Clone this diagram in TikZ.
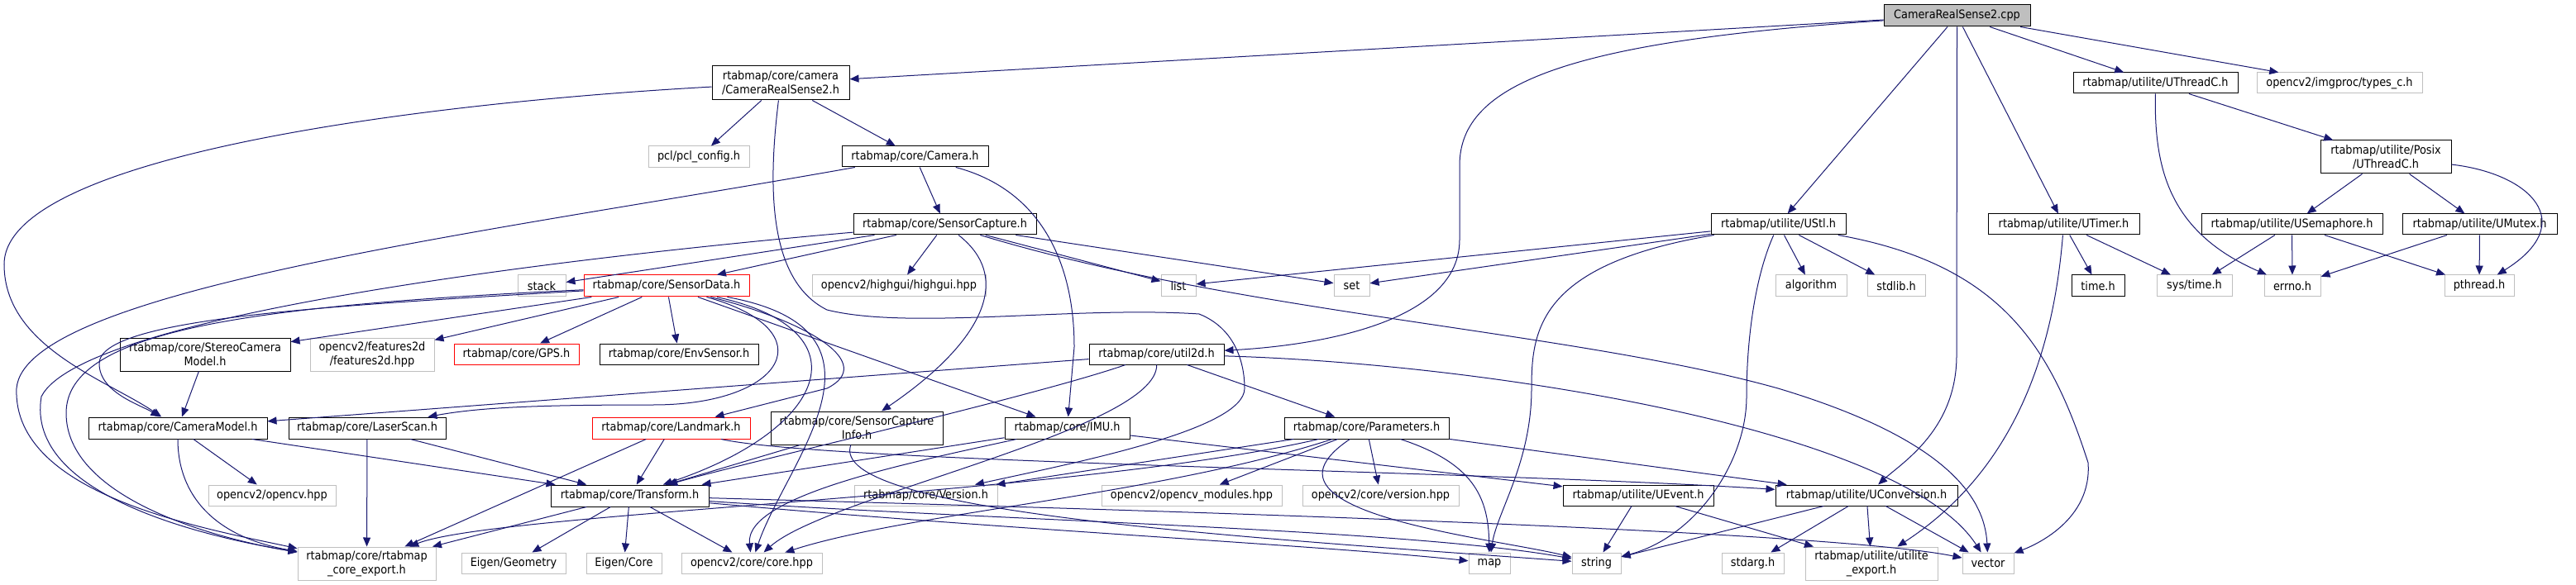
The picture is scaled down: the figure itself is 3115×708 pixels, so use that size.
\documentclass[tikz,border=0pt]{standalone}
\usepackage{fontspec}
\setmainfont{DejaVu Sans Condensed}
\usetikzlibrary{arrows.meta}
\definecolor{edgec}{HTML}{191970}
\definecolor{extc}{HTML}{BFBFBF}
\tikzset{
  nb/.style={draw=black,fill=white,line width=1pt,inner sep=0pt,align=center,font=\fontsize{14.3}{17}\selectfont},
  ext/.style={nb,draw=extc},
  redb/.style={nb,draw=red},
  root/.style={nb,fill=extc},
  e/.style={draw=edgec,line width=1pt,-{Triangle[length=11pt,width=9pt]}}
}
\newcommand{\bx}[6]{\node[#1,minimum width=#4pt,minimum height=#5pt] (#2) at (#3) {#6};}
\begin{document}
\begin{tikzpicture}[x=1pt,y=-1pt]
\useasboundingbox (0,0) rectangle (3115,708);
% nodes
\bx{root}{cpp}{2366.5,19}{177}{26}{CameraRealSense2.cpp}
\bx{nb}{crs2h}{944,100.5}{166}{41}{rtabmap/core/camera\\/CameraRealSense2.h}
\bx{ext}{pcl}{845,190}{122}{26}{pcl/pcl\_config.h}
\bx{nb}{camera}{1106.5,189.5}{177}{25}{rtabmap/core/Camera.h}
\bx{nb}{scap}{1142.5,271.5}{221}{25}{rtabmap/core/SensorCapture.h}
\bx{nb}{ustl}{2150.5,271.5}{163}{25}{rtabmap/utilite/UStl.h}
\bx{nb}{utimer}{2495.5,271.5}{183}{25}{rtabmap/utilite/UTimer.h}
\bx{nb}{uthreadc}{2606.5,100.5}{199}{25}{rtabmap/utilite/UThreadC.h}
\bx{ext}{typesc}{2829,100.5}{200}{25}{opencv2/imgproc/types\_c.h}
\bx{nb}{posix}{2885,190}{158}{40}{rtabmap/utilite/Posix\\/UThreadC.h}
\bx{nb}{usem}{2771.5,271.5}{219}{25}{rtabmap/utilite/USemaphore.h}
\bx{nb}{umutex}{2998.5,271.5}{187}{25}{rtabmap/utilite/UMutex.h}
\bx{ext}{stack}{655,346}{58}{26}{stack}
\bx{redb}{sdata}{806,346}{200}{26}{rtabmap/core/SensorData.h}
\bx{ext}{highgui}{1087,346}{210}{26}{opencv2/highgui/highgui.hpp}
\bx{ext}{list}{1425,346}{42}{26}{list}
\bx{ext}{set}{1634.5,346}{43}{26}{set}
\bx{ext}{algorithm}{2190,346}{86}{26}{algorithm}
\bx{ext}{stdlib}{2293,346}{70}{26}{stdlib.h}
\bx{nb}{timeh}{2537,346}{64}{26}{time.h}
\bx{ext}{systime}{2653.5,346}{91}{26}{sys/time.h}
\bx{ext}{errno}{2772,346}{68}{26}{errno.h}
\bx{ext}{pthread}{2998,346}{84}{26}{pthread.h}
\bx{nb}{stereo}{248,429}{206}{40}{rtabmap/core/StereoCamera\\Model.h}
\bx{ext}{feat2d}{450,429}{150}{40}{opencv2/features2d\\/features2d.hpp}
\bx{redb}{gps}{624.5,428.5}{151}{25}{rtabmap/core/GPS.h}
\bx{nb}{envsensor}{821,428.5}{192}{25}{rtabmap/core/EnvSensor.h}
\bx{nb}{util2d}{1398.5,428.5}{163}{25}{rtabmap/core/util2d.h}
\bx{nb}{cammodel}{215,518}{216}{26}{rtabmap/core/CameraModel.h}
\bx{nb}{laserscan}{444,518}{190}{26}{rtabmap/core/LaserScan.h}
\bx{redb}{landmark}{811.5,518}{191}{26}{rtabmap/core/Landmark.h}
\bx{nb}{scapinfo}{1036,518}{208}{40}{rtabmap/core/SensorCapture\\Info.h}
\bx{nb}{imu}{1290.5,518}{151}{26}{rtabmap/core/IMU.h}
\bx{nb}{params}{1652.5,518}{199}{26}{rtabmap/core/Parameters.h}
\bx{ext}{opencvhpp}{329,599.5}{154}{25}{opencv2/opencv.hpp}
\bx{nb}{transform}{761.5,600}{191}{26}{rtabmap/core/Transform.h}
\bx{ext}{version}{1119.5,599.5}{173}{25}{rtabmap/core/Version.h}
\bx{ext}{cvmodules}{1441,599.5}{218}{25}{opencv2/opencv\_modules.hpp}
\bx{ext}{cvversion}{1669.5,599.5}{189}{25}{opencv2/core/version.hpp}
\bx{nb}{uevent}{1981,599.5}{182}{25}{rtabmap/utilite/UEvent.h}
\bx{nb}{uconv}{2257,599.5}{220}{25}{rtabmap/utilite/UConversion.h}
\bx{ext}{export}{443.5,682}{167}{40}{rtabmap/core/rtabmap\\\_core\_export.h}
\bx{ext}{eigengeo}{621,681.5}{126}{25}{Eigen/Geometry}
\bx{ext}{eigencore}{754.5,681.5}{91}{25}{Eigen/Core}
\bx{ext}{corehpp}{909,681.5}{170}{25}{opencv2/core/core.hpp}
\bx{ext}{map}{1801,681.5}{50}{25}{map}
\bx{ext}{string}{1930.5,681.5}{59}{25}{string}
\bx{ext}{stdarg}{2119.5,681.5}{75}{25}{stdarg.h}
\bx{ext}{uexport}{2263,682}{160}{40}{rtabmap/utilite/utilite\\\_export.h}
\bx{ext}{vector}{2404,681.5}{62}{25}{vector}
% edges: cpp
\draw[e] (cpp) -- (crs2h);
\draw[e] (cpp) .. controls (1900,50) and (1765,100) .. (1765,200) -- (1765,290) .. controls (1765,400) and (1560,420) .. (util2d);
\draw[e] (cpp) -- (ustl);
\draw[e] (cpp.south) -- (2366,430) .. controls (2366,520) and (2300,560) .. (uconv);
\draw[e] (cpp) -- (utimer);
\draw[e] (cpp) -- (uthreadc);
\draw[e] (cpp) -- (typesc);
% crs2h
\draw[e] (crs2h) -- (pcl);
\draw[e] (crs2h) -- (camera);
\draw[e] (crs2h) .. controls (500,125) and (5,190) .. (5,320) .. controls (5,420) and (130,460) .. (cammodel);
\draw[e] (crs2h) .. controls (928,230) and (930,340) .. (1000,375) .. controls (1100,400) and (1300,370) .. (1450,380) .. controls (1500,400) and (1505,450) .. (1505,470) .. controls (1505,520) and (1300,560) .. (version);
% camera
\draw[e] (camera) .. controls (600,280) and (30,350) .. (20,470) .. controls (15,600) and (250,640) .. (export);
\draw[e] (camera) -- (scap);
\draw[e] (camera) .. controls (1260,230) and (1299,320) .. (1299,420) -- (imu);
% scap
\draw[e] (scap) -- (stack);
\draw[e] (scap) .. controls (700,310) and (100,380) .. (50,480) .. controls (30,600) and (250,650) .. (export);
\draw[e] (scap) -- (sdata);
\draw[e] (scap) -- (highgui);
\draw[e] (scap) .. controls (1230,340) and (1180,420) .. (scapinfo);
\draw[e] (scap) -- (list);
\draw[e] (scap) -- (set);
\draw[e] (scap) .. controls (1500,380) and (1900,400) .. (2150,470) .. controls (2350,530) and (2400,600) .. (vector);
% sdata
\draw[e] (sdata) .. controls (400,370) and (120,385) .. (120,440) .. controls (120,475) and (170,490) .. (cammodel);
\draw[e] (sdata) .. controls (300,370) and (80,400) .. (80,500) .. controls (80,600) and (250,650) .. (export);
\draw[e] (sdata) -- (stereo);
\draw[e] (sdata) -- (feat2d);
\draw[e] (sdata) -- (gps);
\draw[e] (sdata) -- (envsensor);
\draw[e] (sdata) .. controls (1000,400) and (950,490) .. (790,490) .. controls (650,490) and (580,493) .. (laserscan);
\draw[e] (sdata) .. controls (980,390) and (1060,440) .. (1000,470) -- (landmark);
\draw[e] (sdata) .. controls (1050,400) and (1000,520) .. (transform);
\draw[e] (sdata) .. controls (1100,400) and (950,560) .. (corehpp);
\draw[e] (sdata) -- (imu);
% util2d
\draw[e] (util2d) -- (cammodel);
\draw[e] (util2d) .. controls (1250,480) and (900,560) .. (transform);
\draw[e] (util2d) .. controls (1400,520) and (1000,600) .. (corehpp);
\draw[e] (util2d) -- (params);
\draw[e] (util2d) .. controls (1800,440) and (2300,520) .. (vector);
% models
\draw[e] (stereo) -- (cammodel);
\draw[e] (cammodel) -- (opencvhpp);
\draw[e] (cammodel) .. controls (215,600) and (260,650) .. (export);
\draw[e] (cammodel) -- (transform);
\draw[e] (laserscan) -- (export);
\draw[e] (laserscan) -- (transform);
\draw[e] (landmark) -- (transform);
\draw[e] (landmark) -- (export);
\draw[e] (landmark) .. controls (1000,560) and (1800,570) .. (uconv);
\draw[e] (scapinfo) -- (transform);
\draw[e] (scapinfo) .. controls (1000,620) and (1500,650) .. (string);
\draw[e] (imu) -- (transform);
\draw[e] (imu) -- (uevent);
\draw[e] (imu) .. controls (1100,560) and (900,600) .. (corehpp);
% params
\draw[e] (params) -- (version);
\draw[e] (params) -- (cvmodules);
\draw[e] (params) -- (cvversion);
\draw[e] (params) .. controls (1780,560) and (1800,600) .. (map);
\draw[e] (params) -- (uconv);
\draw[e] (params) .. controls (1300,600) and (600,620) .. (export);
\draw[e] (params) .. controls (1400,600) and (1100,620) .. (corehpp);
\draw[e] (params) .. controls (1500,620) and (1800,650) .. (string);
% transform
\draw[e] (transform) -- (export);
\draw[e] (transform) -- (eigengeo);
\draw[e] (transform) -- (eigencore);
\draw[e] (transform) -- (corehpp);
\draw[e] (transform) .. controls (1200,630) and (1700,640) .. (string);
\draw[e] (transform) .. controls (1200,640) and (1600,660) .. (map);
\draw[e] (transform) .. controls (1300,615) and (2200,640) .. (vector);
% utilite
\draw[e] (uevent) -- (string);
\draw[e] (uevent) -- (uexport);
\draw[e] (uconv) -- (string);
\draw[e] (uconv) -- (stdarg);
\draw[e] (uconv) -- (uexport);
\draw[e] (uconv) -- (vector);
\draw[e] (ustl) -- (list);
\draw[e] (ustl) -- (set);
\draw[e] (ustl) .. controls (1860,320) and (1852,400) .. (1852,470) .. controls (1852,560) and (1810,620) .. (map);
\draw[e] (ustl) .. controls (2120,340) and (2112,420) .. (2112,480) .. controls (2112,560) and (2050,650) .. (string);
\draw[e] (ustl) -- (algorithm);
\draw[e] (ustl) -- (stdlib);
\draw[e] (ustl) .. controls (2420,320) and (2480,420) .. (2525,560) .. controls (2530,630) and (2460,660) .. (vector);
\draw[e] (utimer) -- (timeh);
\draw[e] (utimer) -- (systime);
\draw[e] (utimer) .. controls (2485,400) and (2450,560) .. (uexport);
\draw[e] (uthreadc) .. controls (2605,200) and (2620,280) .. (errno);
\draw[e] (uthreadc) -- (posix);
\draw[e] (posix) -- (usem);
\draw[e] (posix) -- (umutex);
\draw[e] (posix) .. controls (3060,210) and (3120,270) .. (pthread);
\draw[e] (usem) -- (systime);
\draw[e] (usem) -- (errno);
\draw[e] (usem) -- (pthread);
\draw[e] (umutex) -- (errno);
\draw[e] (umutex) -- (pthread);
\end{tikzpicture}
\end{document}
